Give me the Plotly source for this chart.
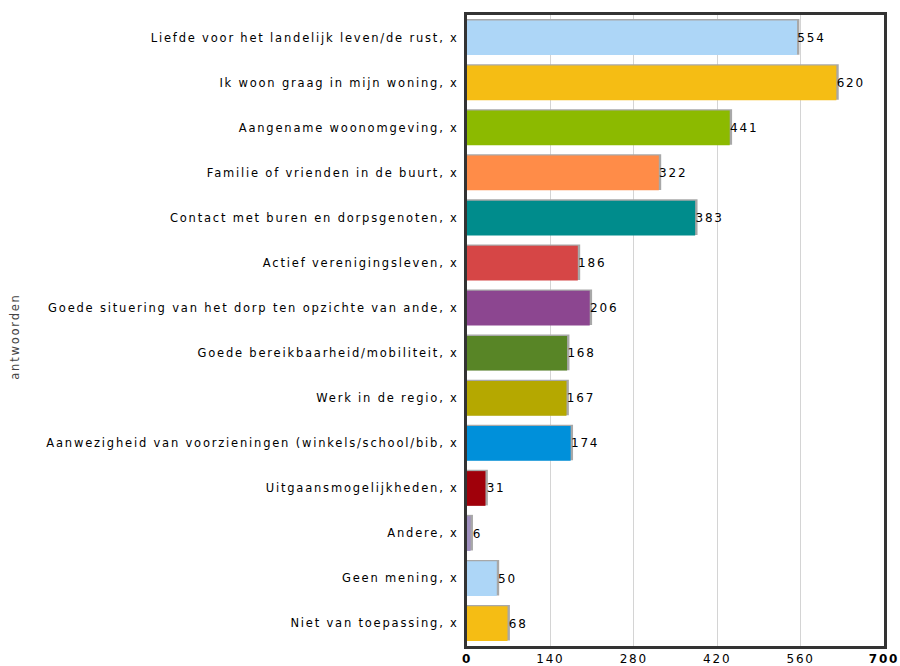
import plotly.graph_objects as go

categories = [
    "Liefde voor het landelijk leven/de rust, x",
    "Ik woon graag in mijn woning, x",
    "Aangename woonomgeving, x",
    "Familie of vrienden in de buurt, x",
    "Contact met buren en dorpsgenoten, x",
    "Actief verenigingsleven, x",
    "Goede situering van het dorp ten opzichte van ande, x",
    "Goede bereikbaarheid/mobiliteit, x",
    "Werk in de regio, x",
    "Aanwezigheid van voorzieningen (winkels/school/bib, x",
    "Uitgaansmogelijkheden, x",
    "Andere, x",
    "Geen mening, x",
    "Niet van toepassing, x",
]
values = [554, 620, 441, 322, 383, 186, 206, 168, 167, 174, 31, 6, 50, 68]
colors = [
    "#ADD6F7", "#F5BD14", "#8CBA00", "#FF8C48", "#008C8C", "#D64646", "#8C4690",
    "#588526", "#B5A800", "#0090DA", "#A0000A", "#A090C0", "#ADD6F7", "#F5BD14",
]
x_ticks = [0, 140, 280, 420, 560, 700]
x_ticktext = ["<b>0</b>", "140", "280", "420", "560", "<b>700</b>"]

font = "DejaVu Sans, Verdana, sans-serif"

fig = go.Figure()

# grey drop shadow behind each bar
fig.add_trace(go.Bar(
    y=categories,
    x=[v + 4 for v in values],
    orientation="h",
    marker=dict(color="#A8A8A8", line=dict(width=0)),
    width=0.79,
    offset=-0.41,
    hoverinfo="skip",
    showlegend=False,
))

fig.add_trace(go.Bar(
    y=categories,
    x=values,
    orientation="h",
    marker=dict(color=colors, line=dict(width=0)),
    width=0.77,
    offset=-0.38,
    text=[str(v) for v in values],
    textposition="outside",
    cliponaxis=False,
    textfont=dict(family=font, size=12, color="#000000"),
    showlegend=False,
))

fig.update_layout(
    width=900,
    height=666,
    margin=dict(l=467, r=16, t=15, b=20),
    paper_bgcolor="white",
    plot_bgcolor="white",
    barmode="overlay",
    font=dict(family=font, size=12, color="#000000"),
    xaxis=dict(
        range=[0, 700],
        tickvals=x_ticks,
        ticktext=x_ticktext,
        showgrid=True,
        gridcolor="#D4D4D4",
        gridwidth=1,
        zeroline=False,
        showline=True,
        linecolor="#333333",
        linewidth=3,
        mirror=True,
        ticks="",
        automargin=False,
        tickfont=dict(family=font, size=12, color="#000000"),
    ),
    yaxis=dict(
        autorange="reversed",
        showgrid=False,
        zeroline=False,
        showline=True,
        linecolor="#333333",
        linewidth=3,
        mirror=True,
        ticks="",
        automargin=False,
        ticklabelstandoff=3,
        tickfont=dict(family=font, size=11.5, color="#000000"),
    ),
    annotations=[dict(
        text="antwoorden",
        textangle=-90,
        xref="paper", yref="paper",
        x=-467 / 417, y=0.49,
        xanchor="left", yanchor="middle",
        xshift=6,
        showarrow=False,
        font=dict(family=font, size=11.5, color="#444444"),
    )],
)

# the source chart uses widely spaced text; also drop the page's default margin
page_css = (
    "var s=document.createElement('style');"
    "s.innerHTML='body{margin:0}.main-svg text{letter-spacing:1.8px}';"
    "document.head.appendChild(s);"
)
fig.write_html("out.html", post_script=page_css, config={"displayModeBar": False})
